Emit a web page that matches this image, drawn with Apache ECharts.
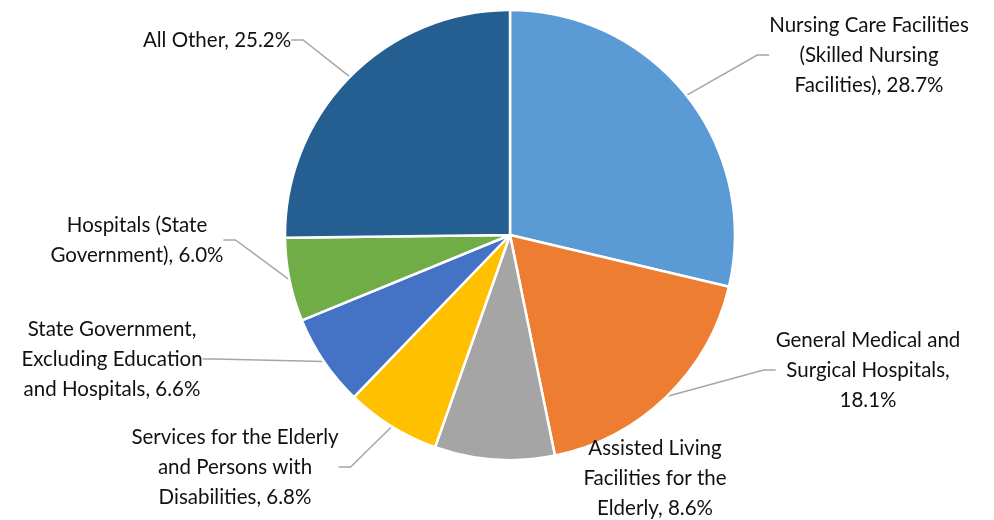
<!DOCTYPE html>
<html><head><meta charset="utf-8">
<script src="https://cdn.jsdelivr.net/npm/echarts@6/dist/echarts.min.js"></script>
<style>html,body{margin:0;padding:0;background:#fff}#c{width:994px;height:520px}</style>
</head><body><div id="c"></div>
<script>
const categories = [
  "Nursing Care Facilities\n(Skilled Nursing\nFacilities)",
  "General Medical and\nSurgical Hospitals,\n",
  "Assisted Living\nFacilities for the\nElderly",
  "Services for the Elderly\nand Persons with\nDisabilities",
  "State Government,\nExcluding Education\nand Hospitals",
  "Hospitals (State\nGovernment)",
  "All Other"
];
const values = [28.7, 18.1, 8.6, 6.8, 6.6, 6.0, 25.2];
const colors = ["#5B9BD5", "#ED7D31", "#A5A5A5", "#FFC000", "#4472C4", "#70AD47", "#255E91"];

// label anchor placements (layout only)
const labelPos = [
  [869, 55], [868, 370], [655, 478], [235, 467], [112, 359], [137, 240], [217, 40]
];

const chart = echarts.init(document.getElementById('c'));
chart.setOption({
  animation: false,
  series: [{
    type: 'pie',
    center: [510, 235],
    radius: [0, 225],
    startAngle: 90,
    clockwise: true,
    data: values.map((v, i) => ({
      name: categories[i], value: v,
      itemStyle: { color: colors[i] },
      labelLine: { show: i !== 2 }
    })),
    itemStyle: { borderColor: '#fff', borderWidth: 2.5 },
    label: {
      show: true,
      formatter: p => {
        const n = p.name;
        return n.endsWith('\n') ? n + p.value.toFixed(1) + '%' : n + ', ' + p.value.toFixed(1) + '%';
      },
      fontFamily: 'Lato',
      fontSize: 20.5,
      lineHeight: 30,
      color: '#111',
      align: 'center'
    },
    labelLine: { show: true, length: 20, length2: 12, lineStyle: { color: '#A6A6A6', width: 1.5 } },
    labelLayout: p => ({
      x: labelPos[p.dataIndex][0],
      y: labelPos[p.dataIndex][1],
      align: 'center',
      verticalAlign: 'middle'
    })
  }]
});
</script></body></html>
